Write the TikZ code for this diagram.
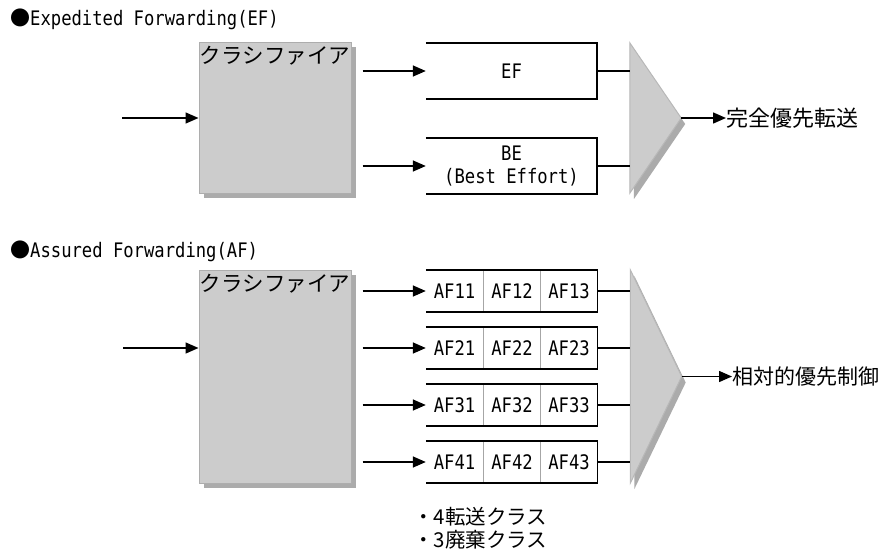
\documentclass[tikz,border=0pt]{standalone}
\usepackage{fontspec}
\setmainfont{DejaVu Sans Mono}[FakeStretch=0.86]
\newfontfamily\jp{Noto Sans CJK JP}
\usetikzlibrary{arrows.meta, positioning, calc, shadows}
\newcommand{\latin}{\fontsize{20}{23}\selectfont}
\newcommand{\kana}{\fontsize{21.5}{23}\selectfont\jp}

\begin{document}
\begin{tikzpicture}[x=1pt, y=-1pt,
  cls/.style={rectangle, draw=black!32, fill=black!20, line width=1pt, minimum width=152pt, inner sep=0pt,
    drop shadow={shadow xshift=5pt, shadow yshift=-5pt, fill=black!33, opacity=1}},
  clslabel/.style={font=\kana, inner sep=0pt},
  queue/.style={rectangle, minimum width=171pt, minimum height=56pt, inner sep=0pt, align=center, font=\latin},
  cell/.style={rectangle, minimum width=57pt, minimum height=42pt, inner sep=0pt, font=\latin},
  mux/.style={rectangle, minimum width=51pt, inner sep=0pt},
  head/.style={anchor=base west, inner sep=0pt, font=\latin},
  outlabel/.style={anchor=west, inner sep=0pt, font=\kana},
  arr/.style={line width=1.5pt},
  sep/.style={line width=1pt, black!35},
  >={Triangle[length=13pt, width=11pt]}
]
  \useasboundingbox (0,0) rectangle (881,552);

  % Expedited Forwarding
  \node[head] (headEF) at (10,25) {{\jp ●}Expedited Forwarding(EF)};
  \node[cls, minimum height=151pt] (clsA) at (275,117.5) {};
  \node[clslabel, below=4pt of clsA.north] {クラシファイア};
  \coordinate (inA) at (122,118);
  \draw[->, arr] (inA) -- (clsA.west |- inA);

  \node[queue] (qEF) at (511.5,71) {EF};
  \node[queue] (qBE) at (511.5,166) {BE\\(Best Effort)};
  \foreach \q in {qEF, qBE} {
    \draw[arr] (\q.north west) -- (\q.north east) -- (\q.south east) -- (\q.south west);
    \draw[->, arr] ([xshift=11pt]clsA.east |- \q.west) -- (\q.west);
  }

  \node[mux, minimum height=150pt] (muxA) at (655.5,118) {};
  \fill[black!33] ([shift={(4,6)}]muxA.north west) -- ([shift={(4,6)}]muxA.east) -- ([shift={(4,6)}]muxA.south west) -- cycle;
  \draw[fill=black!20, draw=black!28, line width=1pt] (muxA.north west) -- (muxA.east) -- (muxA.south west) -- cycle;
  \foreach \q in {qEF, qBE} {
    \draw[arr] (\q.east) -- (\q.east -| muxA.west);
  }
  \node[outlabel, font=\fontsize{22}{24}\selectfont\jp] (outA) at (726,118) {完全優先転送};
  \draw[->, arr] (muxA.east) -- (outA.west);

  % Assured Forwarding
  \node[head] (headAF) at (10,257) {{\jp ●}Assured Forwarding(AF)};
  \node[cls, minimum height=213pt] (clsB) at (275,376.5) {};
  \node[clslabel, below=4pt of clsB.north] {クラシファイア};
  \coordinate (inB) at (123,348);
  \draw[->, arr] (inB) -- (clsB.west |- inB);

  \node[mux, minimum height=213pt] (muxB) at (656,376.5) {};
  \fill[black!33] ([shift={(4,6)}]muxB.north west) -- ([shift={(4,6)}]muxB.east) -- ([shift={(4,6)}]muxB.south west) -- cycle;
  \draw[fill=black!20, draw=black!28, line width=1pt] (muxB.north west) -- (muxB.east) -- (muxB.south west) -- cycle;

  \foreach \row/\y in {1/291, 2/348, 3/405, 4/462} {
    \foreach \col/\x in {1/454.5, 2/512, 3/569} {
      \node[cell] (af\row\col) at (\x,\y) {AF\row\col};
    }
    \draw[sep] (af\row1.north east) -- (af\row1.south east);
    \draw[sep] (af\row2.north east) -- (af\row2.south east);
    \draw[arr] (af\row1.north west) -- (af\row3.north east) -- (af\row3.south east) -- (af\row1.south west);
    \draw[->, arr] ([xshift=11pt]clsB.east |- af\row1.west) -- (af\row1.west);
    \draw[arr] (af\row3.east) -- (af\row3.east -| muxB.west);
  }
  \node[outlabel, font=\fontsize{21}{24}\selectfont\jp] (outB) at (732,376.5) {相対的優先制御};
  \draw[->, arr] (muxB.east) -- (outB.west);

  \node[anchor=north west, inner sep=0pt, align=left, font=\fontsize{20.5}{23}\selectfont\jp] (note) at (413,507) {・4転送クラス\\・3廃棄クラス};
\end{tikzpicture}
\end{document}
